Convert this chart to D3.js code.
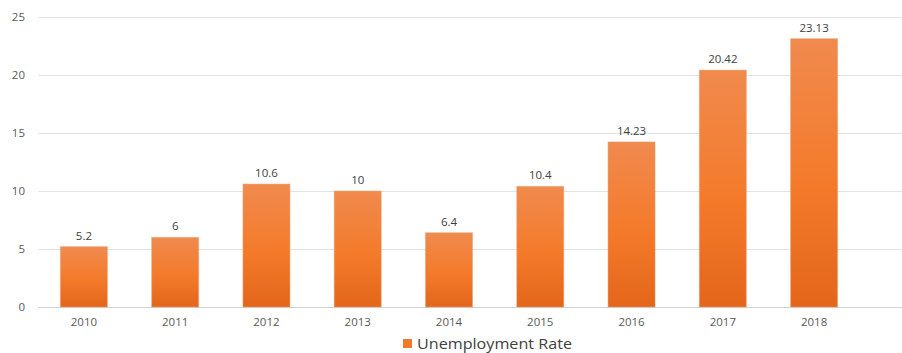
<!DOCTYPE html>
<html>
<head>
<meta charset="utf-8">
<script src="https://cdn.jsdelivr.net/npm/d3@7"></script>
<style>
  body { margin: 0; background: #fff; }
  text { font-family: "Open Sans", "DejaVu Sans", sans-serif; }
</style>
</head>
<body>
<div id="chart"></div>
<script>
// 数据
const years = ["2010", "2011", "2012", "2013", "2014", "2015", "2016", "2017", "2018"];
const rates = [5.2, 6, 10.6, 10, 6.4, 10.4, 14.23, 20.42, 23.13];
const yTicks = [0, 5, 10, 15, 20, 25];
const seriesName = "Unemployment Rate";

const W = 902, H = 353;
const plotLeft = 38.5, plotRight = 859.5, plotTop = 17, plotBottom = 307;

const svg = d3.select("#chart").append("svg")
    .attr("width", W).attr("height", H);

// 渐变
const grad = svg.append("defs").append("linearGradient")
    .attr("id", "barGrad").attr("x1", 0).attr("y1", 0).attr("x2", 0).attr("y2", 1);
grad.append("stop").attr("offset", "0%").attr("stop-color", "#f08a4e");
grad.append("stop").attr("offset", "55%").attr("stop-color", "#f47a2a");
grad.append("stop").attr("offset", "100%").attr("stop-color", "#e3661b");

const x = d3.scaleBand()
    .domain(years)
    .range([plotLeft, plotRight])
    .paddingInner(0.485)
    .paddingOuter(0.24);

const y = d3.scaleLinear()
    .domain([0, 25])
    .range([plotBottom, plotTop]);

// 网格线
svg.append("g")
    .selectAll("line")
    .data(yTicks)
    .enter().append("line")
    .attr("x1", plotLeft).attr("x2", W)
    .attr("y1", d => Math.round(y(d)) + 0.5)
    .attr("y2", d => Math.round(y(d)) + 0.5)
    .attr("stroke", d => d === 0 ? "#d0d0d0" : "#e2e2e2")
    .attr("stroke-width", 1);

// Y轴标签
svg.append("g")
    .selectAll("text")
    .data(yTicks)
    .enter().append("text")
    .attr("x", 25)
    .attr("y", d => y(d) + 4)
    .attr("text-anchor", "end")
    .attr("fill", "#595959")
    .style("font-size", "11.5px")
    .text(d => d);

// X轴标签
svg.append("g")
    .selectAll("text")
    .data(years)
    .enter().append("text")
    .attr("x", d => x(d) + x.bandwidth() / 2)
    .attr("y", plotBottom + 19)
    .attr("text-anchor", "middle")
    .attr("fill", "#595959")
    .style("font-size", "11.5px")
    .text(d => d);

// 柱子
svg.selectAll(".bar")
    .data(rates)
    .enter().append("rect")
    .attr("class", "bar")
    .attr("x", (d, i) => x(years[i]))
    .attr("y", d => y(d))
    .attr("width", x.bandwidth())
    .attr("height", d => plotBottom - y(d))
    .attr("fill", "url(#barGrad)")
    .attr("stroke", "#e8a070")
    .attr("stroke-opacity", 0.5)
    .attr("stroke-width", 1);

// 数据标签
svg.selectAll(".label")
    .data(rates)
    .enter().append("text")
    .attr("class", "label")
    .attr("x", (d, i) => x(years[i]) + x.bandwidth() / 2)
    .attr("y", d => y(d) - 7)
    .attr("text-anchor", "middle")
    .attr("fill", "#404040")
    .style("font-size", "11.5px")
    .text(d => d);

// 图例
const legend = svg.append("g").attr("transform", "translate(403, 339)");
legend.append("rect")
    .attr("x", 0).attr("y", 0)
    .attr("width", 9).attr("height", 9)
    .attr("fill", "#f07a2c");
legend.append("text")
    .attr("x", 14).attr("y", 10)
    .attr("fill", "#404040")
    .style("font-size", "14px")
    .attr("textLength", 155)
    .attr("lengthAdjust", "spacingAndGlyphs")
    .text(seriesName);
</script>
</body>
</html>
